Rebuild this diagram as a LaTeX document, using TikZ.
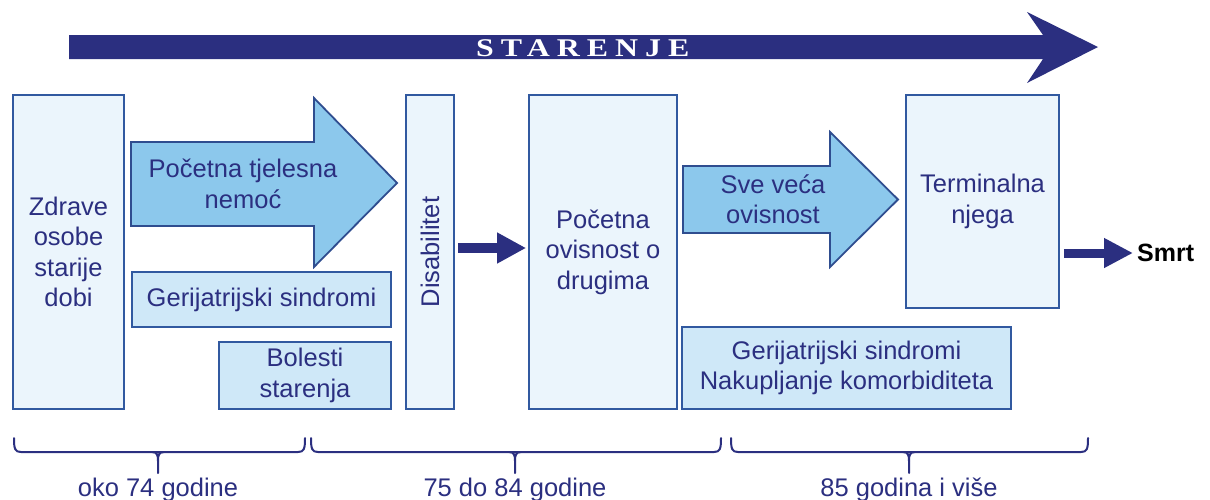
\documentclass[tikz,border=0pt]{standalone}
\usepackage{fontspec}
\setmainfont{Liberation Sans}
\newfontfamily\starfont{Liberation Serif}[LetterSpace=22]
\usetikzlibrary{arrows.meta}
\definecolor{navy}{HTML}{2B2F80}
\definecolor{boxline}{HTML}{3159A0}
\definecolor{boxfill}{HTML}{EBF5FC}
\definecolor{subfill}{HTML}{CFE8F8}
\definecolor{arrfill}{HTML}{8CC8EC}
\definecolor{arrline}{HTML}{2F4D8F}
\newcommand\agebr[5]{%
  \draw[bracket] (#1,438) .. controls (#1,449) and (#1+1,452) .. (#1+7,452) -- (#3-7,452) .. controls (#3-1,452) and (#3,449) .. (#3,438);
  \draw[bracket] (#2-6,452) .. controls (#2-1,452) and (#2,455) .. (#2,461) -- (#2,473);
  \draw[bracket] (#2+6,452) .. controls (#2+1,452) and (#2,455) .. (#2,461);
  \node[txt, anchor=base] (#5) at (#2,496) {#4};
}
\begin{document}
\begin{tikzpicture}[x=1pt,y=-1pt,
  txt/.style={text=navy, font=\fontsize{25.5}{30.5}\selectfont, align=center, inner sep=0pt},
  box/.style={draw=boxline, line width=1.8pt, fill=boxfill, txt},
  subbox/.style={box, fill=subfill},
  blockarrow/.style={draw=arrline, line width=1.8pt, fill=arrfill, line join=miter},
  conn/.style={draw=navy, line width=10pt, -{Triangle[length=29pt,width=29pt]}},
  bracket/.style={draw=navy, line width=2pt, line cap=round}]
\useasboundingbox (0,0) rectangle (1210,499);

% big arrow
\fill[navy] (69,35) -- (1043,35) -- (1027,12) -- (1098,47) -- (1027,83) -- (1043,59) -- (69,59) -- cycle;
\node[anchor=west, inner sep=0pt, text=white, font=\starfont\bfseries\fontsize{25.5}{30}\selectfont] (star) at (476,48.5) {\scalebox{1.25}[1]{STARENJE}};

% main boxes
\node[box, minimum width=111pt, minimum height=314pt] (zdr) at (68.5,252) {Zdrave\\osobe\\starije\\dobi};
\node[box, minimum width=48pt, minimum height=314pt] (dis) at (430,252) {};
\node[txt, rotate=90] (distxt) at (dis.center) {Disabilitet};
\node[box, minimum width=148pt, minimum height=314pt] (pov) at (603,252) {Početna\\ovisnost o\\drugima};
\node[box, minimum width=153pt, minimum height=213pt] (term) at (982.5,201.5) {Terminalna\\njega};

% sub boxes
\node[subbox, minimum width=259pt, minimum height=55pt] (ger1) at (261.5,299.5) {Gerijatrijski sindromi};
\node[subbox, minimum width=172pt, minimum height=67pt] (bol) at (305,375.5) {Bolesti\\starenja};
\node[subbox, minimum width=329pt, minimum height=82pt] (ger2) at (846.5,368) {Gerijatrijski sindromi\\Nakupljanje komorbiditeta};

% block arrows
\draw[blockarrow] (131,142) -- (314,142) -- (314,98) -- (397,183) -- (314,267) -- (314,226) -- (131,226) -- cycle;
\node[txt] (a1t) at (243,184) {Početna tjelesna\\nemoć};
\draw[blockarrow] (683,166) -- (830,166) -- (830,132) -- (898,199.5) -- (830,267) -- (830,233) -- (683,233) -- cycle;
\node[txt] (a2t) at (773,199) {Sve veća\\ovisnost};

% Smrt
\node[anchor=west, inner sep=0pt, font=\bfseries\fontsize{25}{30}\selectfont] (smrt) at (1137,253) {Smrt};

% connectors
\draw[conn, shorten <=3pt, shorten >=2pt] ([yshift=4pt]dis.east) -- ([yshift=4pt]pov.west);
\draw[conn, line width=9pt, -{Triangle[length=29pt,width=28pt]}, shorten <=4pt, shorten >=4pt] (term.east |- smrt.west) -- (smrt.west);

% age brackets
\agebr{14}{158}{305}{oko 74 godine}{l1}
\agebr{311}{515}{721}{75 do 84 godine}{l2}
\agebr{731}{909}{1088}{85 godina i više}{l3}
\end{tikzpicture}
\end{document}
